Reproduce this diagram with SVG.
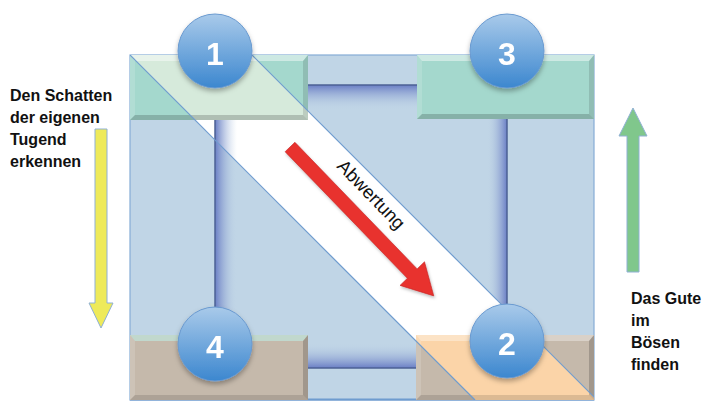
<svg xmlns="http://www.w3.org/2000/svg" width="702" height="401" viewBox="0 0 702 401">
  <defs>
    <style>
      .lbl { font-family: "Liberation Sans", Arial, sans-serif; font-weight: bold; font-size: 16px; fill: #111; }
      .num { font-family: "Liberation Sans", Arial, sans-serif; font-weight: bold; font-size: 32px; fill: #fff; text-anchor: middle; }
      .edge { stroke: #6f9ccf; stroke-width: 1.2; fill: none; }
      .tubeline { stroke: #4d6194; stroke-width: 1.5; }
      .hi { fill: #fff; opacity: 0.45; }
      .lt { fill: #fff; opacity: 0.15; }
      .dk { fill: #000; opacity: 0.12; }
      .dk2 { fill: #000; opacity: 0.18; }
    </style>
    <linearGradient id="tubeTop" x1="0" y1="0" x2="0" y2="1">
      <stop offset="0" stop-color="#6a7ec5"/>
      <stop offset="1" stop-color="#c0d5e6" stop-opacity="0"/>
    </linearGradient>
    <linearGradient id="tubeBottom" x1="0" y1="1" x2="0" y2="0">
      <stop offset="0" stop-color="#6a7ec5"/>
      <stop offset="1" stop-color="#c0d5e6" stop-opacity="0"/>
    </linearGradient>
    <linearGradient id="tubeLeft" x1="0" y1="0" x2="1" y2="0">
      <stop offset="0" stop-color="#6a7ec5"/>
      <stop offset="1" stop-color="#c0d5e6" stop-opacity="0"/>
    </linearGradient>
    <linearGradient id="tubeRight" x1="1" y1="0" x2="0" y2="0">
      <stop offset="0" stop-color="#6a7ec5"/>
      <stop offset="1" stop-color="#c0d5e6" stop-opacity="0"/>
    </linearGradient>
    <linearGradient id="ball" x1="0" y1="0" x2="0" y2="1">
      <stop offset="0" stop-color="#a9caea"/>
      <stop offset="1" stop-color="#3c87cf"/>
    </linearGradient>
    <filter id="shadow" x="-30%" y="-30%" width="160%" height="170%">
      <feDropShadow dx="0" dy="3" stdDeviation="2.5" flood-color="#000" flood-opacity="0.3"/>
    </filter>
    <filter id="soft" x="-10%" y="-10%" width="120%" height="120%">
      <feDropShadow dx="1" dy="2" stdDeviation="1.5" flood-color="#000" flood-opacity="0.25"/>
    </filter>
    <clipPath id="frameClip">
      <rect x="130" y="55" width="464" height="345"/>
    </clipPath>
    <clipPath id="box1Clip"><rect x="130" y="55" width="178" height="65"/></clipPath>
    <clipPath id="box2Clip"><rect x="416" y="335" width="178" height="65"/></clipPath>
    <circle id="ballShape" r="37" fill="url(#ball)" stroke="#6a9ad0" stroke-width="1"/>
  </defs>

  <!-- frame background -->
  <g id="frame">
    <rect x="130" y="55" width="464" height="345" fill="#c0d5e6" stroke="#85acd6" stroke-width="1.2"/>
    <line x1="130" y1="399.5" x2="594" y2="399.5" stroke="#6f9ccf" stroke-width="2"/>
    <!-- recessed inner edges -->
    <rect x="215" y="85" width="292" height="25" fill="url(#tubeTop)"/>
    <rect x="487" y="85" width="20" height="283" fill="url(#tubeRight)"/>
    <rect x="215" y="343" width="292" height="25" fill="url(#tubeBottom)"/>
    <line class="tubeline" x1="215" y1="85" x2="507" y2="85"/>
    <line class="tubeline" x1="215" y1="368" x2="507" y2="368"/>
    <line class="tubeline" x1="507" y1="85" x2="507" y2="368"/>
  </g>

  <!-- diagonal band -->
  <g id="band" clip-path="url(#frameClip)">
    <polygon points="130,55 252,55 597,400 475,400" fill="#ffffff"/>
  </g>

  <g id="frame-left-edge">
    <rect x="215" y="85" width="22" height="283" fill="url(#tubeLeft)"/>
    <line class="tubeline" x1="215" y1="85" x2="215" y2="368"/>
  </g>

  <!-- corner blocks -->
  <g id="box1">
    <rect x="130" y="55" width="178" height="65" fill="#a4d8cd"/>
    <polygon clip-path="url(#box1Clip)" points="130,55 252,55 317,120 195,120" fill="#d6eadb"/>
    <polygon class="hi" points="130,55 308,55 303,61 135,61"/>
    <polygon class="lt" points="130,55 135,61 135,115 130,120"/>
    <polygon class="dk" points="308,55 308,120 303,115 303,61"/>
    <polygon class="dk2" points="130,120 308,120 303,115 135,115"/>
  </g>
  <g id="box3">
    <rect x="417" y="55" width="177" height="64" fill="#a4d8cd"/>
    <polygon class="hi" points="417,55 594,55 589,61 422,61"/>
    <polygon class="lt" points="417,55 422,61 422,114 417,119"/>
    <polygon class="dk" points="594,55 594,119 589,114 589,61"/>
    <polygon class="dk2" points="417,119 594,119 589,114 422,114"/>
  </g>
  <g id="box4">
    <rect x="130" y="335" width="178" height="65" fill="#c5b9ab"/>
    <polygon fill="#bfe0d6" opacity="0.8" points="130,335 308,335 303,341 135,341"/>
    <polygon class="lt" points="130,335 135,341 135,395 130,400"/>
    <polygon class="dk2" points="308,335 308,400 303,395 303,341"/>
    <polygon class="dk" points="130,400 308,400 303,395 135,395"/>
  </g>
  <g id="box2">
    <rect x="416" y="335" width="178" height="65" fill="#c5b9ab"/>
    <polygon clip-path="url(#box2Clip)" points="410,335 532,335 597,400 475,400" fill="#fbd4a8"/>
    <polygon fill="#fff" opacity="0.35" points="416,335 594,335 589,341 421,341"/>
    <polygon class="lt" points="416,335 421,341 421,395 416,400"/>
    <polygon class="dk2" points="594,335 594,400 589,395 589,341"/>
    <polygon class="dk" points="416,400 594,400 589,395 421,395"/>
  </g>

  <!-- band outlines -->
  <g id="connectors" clip-path="url(#frameClip)">
    <line class="edge" x1="130" y1="55" x2="475" y2="400"/>
    <line class="edge" x1="252" y1="55" x2="597" y2="400"/>
  </g>

  <!-- arrows -->
  <g id="arrow-abwertung" filter="url(#soft)">
    <polygon transform="translate(290,147) rotate(46)" points="0,-6.8 176,-6.8 176,-17 207,0 176,17 176,6.8 0,6.8" fill="#e8302d" stroke="#c42a2a" stroke-width="0.6"/>
  </g>
  <text id="label-abwertung" transform="translate(336,167) rotate(46)" font-family="Liberation Sans, Arial, sans-serif" font-size="18.5" fill="#111">Abwertung</text>

  <g id="arrow-down">
    <polygon points="95,129 107,129 107,303 113,303 101,328 89,303 95,303" fill="#eeea5a" stroke="#8fb0d4" stroke-width="1"/>
  </g>
  <g id="arrow-up">
    <polygon points="627,272 639,272 639,136 647,136 633,108 619,136 627,136" fill="#80c78c" stroke="#8fb0d4" stroke-width="1"/>
  </g>

  <!-- side labels -->
  <g id="label-left">
    <text class="lbl" x="10" y="101">Den Schatten</text>
    <text class="lbl" x="10" y="123">der eigenen</text>
    <text class="lbl" x="10" y="145">Tugend</text>
    <text class="lbl" x="10" y="167">erkennen</text>
  </g>
  <g id="label-right">
    <text class="lbl" x="631" y="304">Das Gute</text>
    <text class="lbl" x="631" y="326">im</text>
    <text class="lbl" x="631" y="348">Bösen</text>
    <text class="lbl" x="631" y="370">finden</text>
  </g>

  <!-- numbered markers -->
  <g id="node1" filter="url(#shadow)">
    <use href="#ballShape" x="215" y="51"/>
    <text class="num" x="215" y="65">1</text>
  </g>
  <g id="node3" filter="url(#shadow)">
    <use href="#ballShape" x="507" y="51"/>
    <text class="num" x="507" y="65">3</text>
  </g>
  <g id="node4" filter="url(#shadow)">
    <use href="#ballShape" x="215" y="344"/>
    <text class="num" x="215" y="358">4</text>
  </g>
  <g id="node2" filter="url(#shadow)">
    <use href="#ballShape" x="507" y="341"/>
    <text class="num" x="507" y="355">2</text>
  </g>
</svg>
